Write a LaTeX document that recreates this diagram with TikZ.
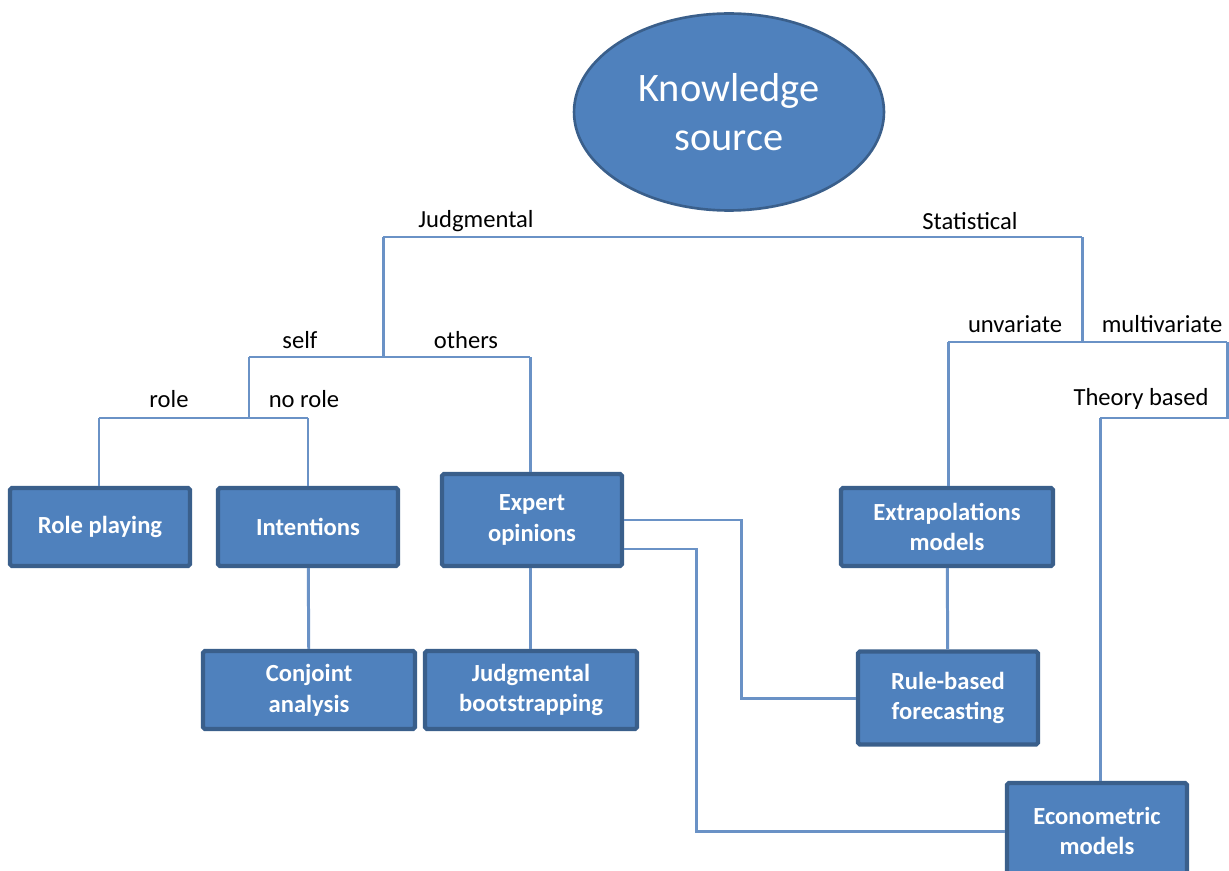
\documentclass[tikz,border=0pt]{standalone}
\usepackage{fontspec}
\setmainfont{Carlito}
\usetikzlibrary{shapes.geometric}
\definecolor{boxblue}{HTML}{4F81BD}
\definecolor{boxedge}{HTML}{3A5F8B}
\definecolor{linkblue}{HTML}{6A92C6}
\tikzset{
  methodbox/.style={draw=boxedge, fill=boxblue, line width=2.4pt, rounded corners=1pt,
    text=white, font=\fontsize{14}{17.5}\selectfont\bfseries, align=center,
    minimum width=3.6cm, minimum height=1.56cm, inner sep=2pt},
  widebox/.style={methodbox, minimum width=4.24cm},
  sourceoval/.style={ellipse, draw=boxedge, fill=boxblue, line width=1.5pt, text=white,
    font=\fontsize{23}{28}\selectfont, align=center, minimum width=6.2cm, minimum height=3.94cm},
  branchlabel/.style={font=\fontsize{14}{17}\selectfont, text=black, inner sep=0pt},
  link/.style={draw=linkblue, line width=1.7pt}
}
\begin{document}
\begin{tikzpicture}[x=0.02cm, y=-0.02cm]
  \useasboundingbox (0,0) rectangle (1229,871);

  % root
  \node[sourceoval] (source) at (729,112) {Knowledge\\source};

  % methods
  \node[methodbox] (role) at (100,527) {Role playing};
  \node[methodbox] (intent) at (308,527) {Intentions};
  \node[methodbox, minimum height=1.84cm] (expert) at (532,520) {Expert\\opinions};
  \node[widebox] (conjoint) at (309,690) {Conjoint\\analysis};
  \node[widebox] (bootstrap) at (531,690) {Judgmental\\bootstrapping};
  \node[widebox] (extrap) at (947,527) {Extrapolations\\models};
  \node[methodbox, minimum height=1.86cm] (rule) at (948,698) {Rule-based\\forecasting};
  \node[methodbox, minimum height=1.92cm] (econ) at (1097,831) {Econometric\\models};

  % branch points
  \coordinate (judg) at (383,237);
  \coordinate (stat) at (1082,237);
  \coordinate (selfpt) at (249,357);
  \coordinate (otherpt) at (530,357);
  \coordinate (rolept) at (99,418);
  \coordinate (norolept) at (308,418);
  \coordinate (univpt) at (948,342);
  \coordinate (multipt) at (1227,342);
  \coordinate (theorypt) at (1100,418);

  % tree
  \draw[link] (judg) -- (stat);
  \draw[link] (judg) -- (judg |- selfpt);
  \draw[link] (selfpt) -- (otherpt);
  \draw[link] (otherpt) -- (otherpt |- expert.north);
  \draw[link] (selfpt) -- (selfpt |- rolept);
  \draw[link] (rolept) -- (norolept);
  \draw[link] (rolept) -- (rolept |- role.north);
  \draw[link] (norolept) -- (norolept |- intent.north);
  \draw[link] (stat) -- (stat |- univpt);
  \draw[link] (univpt) -- (multipt);
  \draw[link] (univpt) -- (univpt |- extrap.north);
  \draw[link] (multipt) |- (theorypt);
  \draw[link] (theorypt) -- (theorypt |- econ.north);

  % links between methods
  \draw[link] (intent) -- (conjoint);
  \draw[link] (expert.south -| otherpt) -- (bootstrap.north -| otherpt);
  \draw[link] (extrap) -- (rule);
  \draw[link] (expert.east) -- ++(117,0) |- (rule.west);
  \draw[link] ([yshift=-0.58cm]expert.east) -- ++(72,0) |- (econ.west);

  % labels
  \node[branchlabel] (ljudg) at (476,221) {Judgmental};
  \node[branchlabel] (lstat) at (970,221) {Statistical};
  \node[branchlabel] (lself) at (300,340) {self};
  \node[branchlabel] (lothers) at (466,340) {others};
  \node[branchlabel] (lrole) at (169,399) {role};
  \node[branchlabel] (lnorole) at (304,399) {no role};
  \node[branchlabel] (luniv) at (1015,324) {unvariate};
  \node[branchlabel] (lmulti) at (1162,324) {multivariate};
  \node[branchlabel] (ltheory) at (1141,399) {Theory based};
\end{tikzpicture}
\end{document}
